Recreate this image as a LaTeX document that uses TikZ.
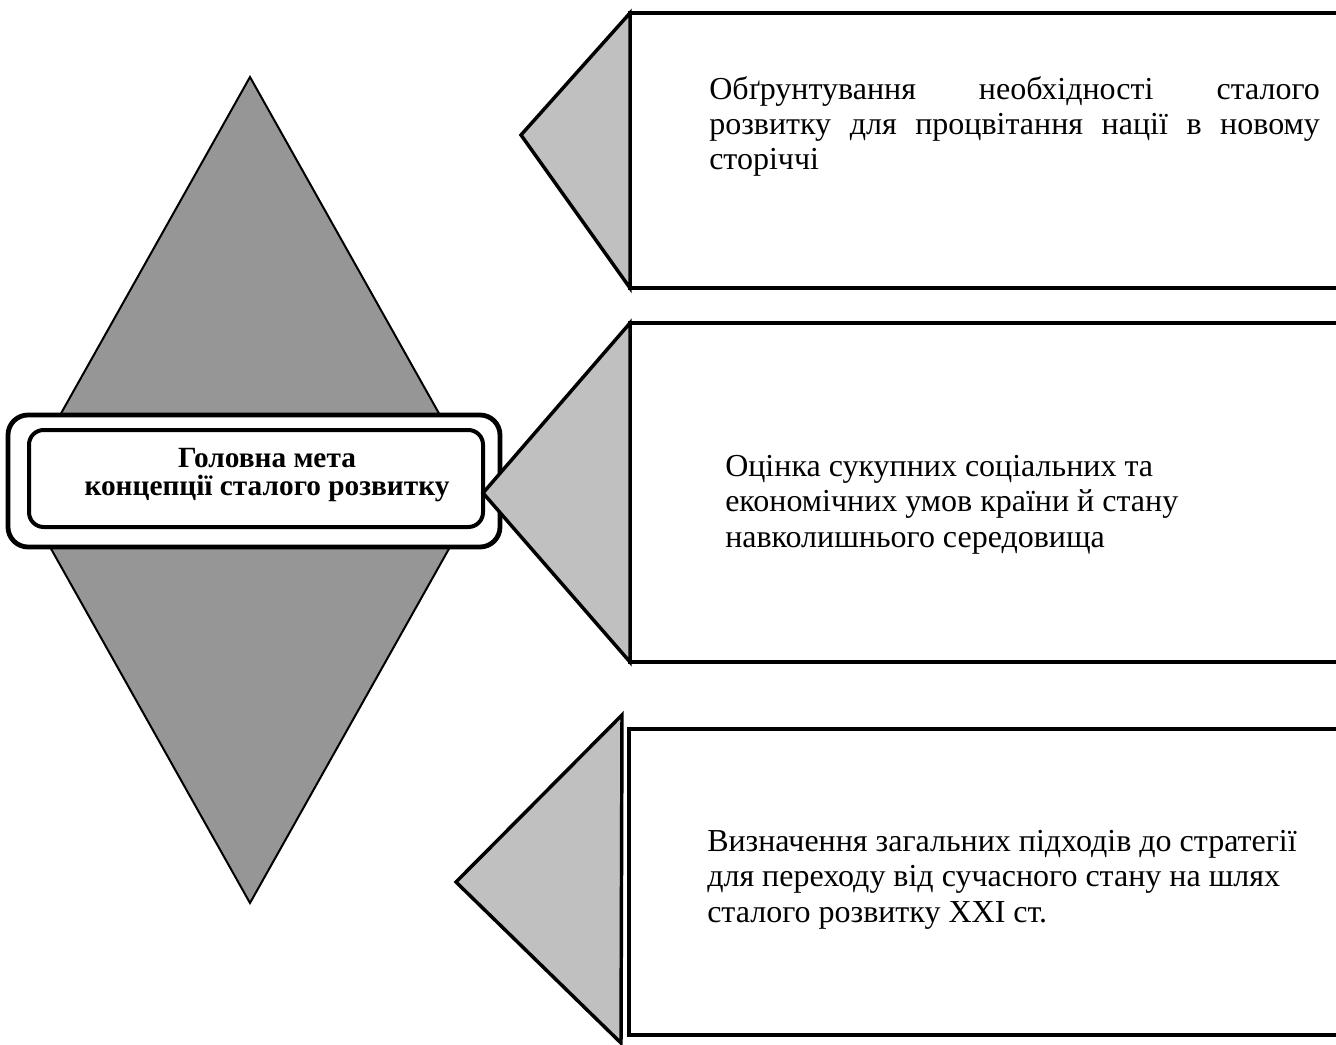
\documentclass[tikz,border=0pt]{standalone}
\usepackage{fontspec}
\setmainfont{Liberation Serif}
\usepackage{tikz}
\usetikzlibrary{fit,positioning}
\definecolor{ink}{HTML}{000000}
\definecolor{stone}{HTML}{969696}
\definecolor{ash}{HTML}{C0C0C0}
\newcommand{\spread}[1]{\makebox[458pt][s]{#1}}
\tikzset{
  box/.style={rectangle, draw=ink, fill=white, line width=3pt, inner sep=0pt, outer sep=0pt},
  tri/.style={draw=ink, fill=ash, line width=2.6pt, line join=miter},
  rhomb/.style={draw=ink, fill=stone, line width=1.5pt},
  goalframe/.style={rectangle, rounded corners=15pt, draw=ink, fill=white, line width=3.6pt, inner sep=0pt},
  goalbox/.style={rectangle, rounded corners=11pt, draw=ink, fill=white, line width=3pt, inner sep=0pt},
  goaltxt/.style={align=center, inner sep=0pt, anchor=base, font=\fontsize{22pt}{21pt}\selectfont\bfseries},
  txt/.style={font=\fontsize{24pt}{26.5pt}\selectfont, align=left, inner sep=0pt, anchor=base west}
}
\begin{document}
\begin{tikzpicture}[x=0.75pt, y=-0.75pt]
  \clip (0,0) rectangle (1336,1045);
  \fill[white] (0,0) rectangle (1336,1045);
  % big rhombus behind the goal
  \draw[rhomb] (250,77) -- (482,490) -- (250,903) -- (18,490) -- cycle;
  \node[goalframe, minimum width=369pt, minimum height=99pt] (frame) at (254,481) {};
  \node[goalbox, minimum width=340.5pt, minimum height=72.75pt] (goal) at (256,478.5) {};
  \node[goaltxt] (goallbl) at (267,495) {Головна мета\\концепції сталого розвитку};
  % three boxes on the right
  \node[box, fit={(630,13) (1400,288)}] (b1) {};
  \node[box, fit={(630,323) (1400,662)}] (b2) {};
  \node[box, fit={(629,729) (1400,1035)}] (b3) {};
  \coordinate (t1) at (521,135);
  \coordinate (t2) at (483,493);
  \coordinate (t3) at (456,882);
  \coordinate (t3a) at (622,715);
  \coordinate (t3b) at (621,1043);
  \draw[tri] (b1.north west) -- (t1) -- (b1.south west) -- cycle;
  \draw[tri] (b2.north west) -- (t2) -- (b2.south west) -- cycle;
  \draw[tri] (t3a) -- (t3) -- (t3b) -- cycle;
  \node[txt] (l1) at (709,170) {\spread{Обґрунтування необхідності сталого}\\\spread{розвитку для процвітання нації в новому}\\сторіччі};
  \node[txt] (l2) at (725,547) {Оцінка сукупних соціальних та\\економічних умов країни й стану\\навколишнього середовища};
  \node[txt] (l3) at (707,922) {Визначення загальних підходів до стратегії\\для переходу від сучасного стану на шлях\\сталого розвитку XXI ст.};
\end{tikzpicture}
\end{document}
